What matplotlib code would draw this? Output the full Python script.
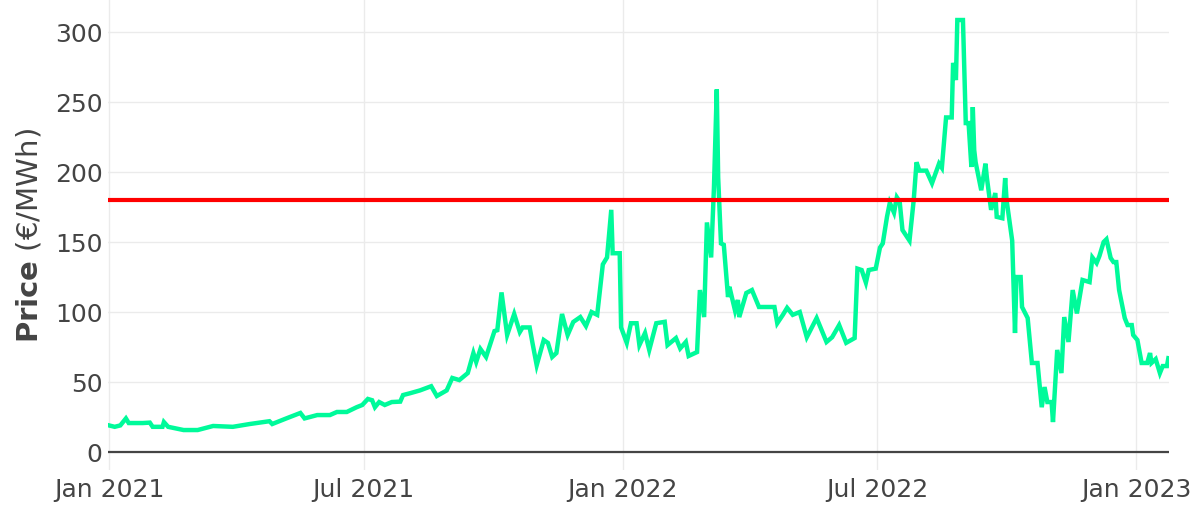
import numpy as np
import pandas as pd
import matplotlib
matplotlib.use("Agg")
import matplotlib.pyplot as plt

# days since 2021-01-01 and price (EUR/MWh)
DAYS = [0, 4, 8, 12, 14, 24, 29, 31, 38, 39, 42, 53, 63, 74, 88, 100, 114, 116,
        126, 136, 139, 148, 157, 162, 169, 176, 180, 184, 187, 189, 192, 196, 201,
        207, 209, 214, 221, 229, 233, 240, 244, 249, 255, 259, 261, 264, 268, 274,
        276, 279, 283, 288, 292, 294, 299, 301, 304, 307, 309, 312, 315, 318, 322,
        326, 330, 335, 339, 343, 347, 351, 354, 357, 358, 363, 364, 368, 371, 375,
        377, 381, 384, 389, 395, 397, 403, 406, 410, 412, 418, 420, 423, 425, 428,
        430, 432, 433, 435, 437, 440, 441, 445, 447, 448, 453, 457, 462, 467, 473,
        475, 479, 482, 486, 491, 496, 503, 510, 514, 519, 524, 530, 532, 535, 538,
        540, 545, 548, 550, 553, 555, 558, 560, 562, 564, 569, 572, 574, 576, 581,
        585, 590, 592, 595, 599, 600, 602, 603, 607, 609, 611, 613, 614, 615, 616,
        620, 623, 624, 627, 630, 631, 635, 637, 638, 642, 644, 645, 648, 649, 653,
        656, 660, 663, 665, 667, 670, 671, 674, 677, 679, 682, 685, 688, 692, 697,
        699, 702, 704, 707, 709, 712, 714, 716, 718, 722, 724, 727, 728, 731, 734,
        738, 740, 741, 744, 747, 749, 752, 753]
PRICE = [19, 18, 19, 24, 20.7, 20.7, 21, 18, 18, 21.4, 18, 15.7, 15.7, 18.6, 18,
         20, 22, 20, 24, 27.9, 24, 26.4, 26.4, 28.6, 28.6, 32, 33.6, 37.9, 37, 32,
         35.7, 33.6, 35.7, 36, 40.7, 42, 44, 47, 40, 44, 52.9, 51.4, 56.4, 70.7,
         64.3, 73.6, 67.9, 86.4, 87, 114, 83.6, 98.6, 85.7, 89, 89, 77.9, 62, 72.9,
         80, 77.9, 67.9, 70.7, 98.6, 83.6, 92.9, 96.4, 90, 100, 98, 134, 139, 173,
         142, 142, 89, 78, 92, 92, 76.4, 85, 72.9, 92, 93, 76.4, 81.4, 74, 78.6,
         68.6, 71.4, 115.7, 96.4, 164, 139, 189, 259, 196, 149, 148, 110.7, 118,
         101, 108.6, 96.4, 113.6, 115.7, 103.6, 103.6, 103.6, 92, 98, 103, 98, 100,
         82, 95.7, 78.6, 82, 90.7, 78, 81.4, 131, 130, 121, 130, 131, 146, 149, 168,
         178, 171, 182, 179, 158.6, 151, 180, 207, 201, 201, 192, 206, 203, 239, 239,
         278, 265.7, 308.6, 308.6, 235, 235, 203.6, 246.4, 215.7, 207, 187, 206, 196,
         173, 185, 168, 167, 195.7, 180, 151, 85, 125, 125, 103.6, 95.7, 63.6, 63.6,
         32, 46.4, 35.7, 35.7, 21.4, 72.9, 56.4, 96.4, 78.6, 115.7, 99, 122.9, 121.4,
         139, 135, 140, 150, 152, 138.6, 135.7, 135.7, 115.7, 95.7, 90.7, 90.7, 83.6,
         80, 63.6, 63.6, 70.7, 63.6, 66.4, 56.4, 61.4, 61.4, 67]
THRESHOLD = 180
START = "2021-01-01"
X_TICKS = ["2021-01-01", "2021-07-01", "2022-01-01", "2022-07-01", "2023-01-01"]
X_TICK_LABELS = ["Jan 2021", "Jul 2021", "Jan 2022", "Jul 2022", "Jan 2023"]
Y_TICKS = [0, 50, 100, 150, 200, 250, 300]

LINE_COLOR = "#00FA9A"
TEXT_COLOR = "#444444"
GRID_COLOR = "#EBEBEB"

plt.rcParams["font.family"] = ["DejaVu Sans"]

start = pd.Timestamp(START)
dates = start + pd.to_timedelta(DAYS, unit="D")

fig = plt.figure(figsize=(11.94, 5.16), dpi=100)
ax = fig.add_axes([0.0905, 0.089, 0.8886, 0.911])

ax.plot(dates, PRICE, color=LINE_COLOR, lw=3.2, solid_joinstyle="miter", zorder=3)
ax.axhline(THRESHOLD, color="#FF0000", lw=3.0, zorder=4)
ax.axhline(0, color=TEXT_COLOR, lw=1.6, zorder=2)

ax.set_xlim(start - pd.Timedelta(days=0.7), start + pd.Timedelta(days=753.5))
ax.set_ylim(-12.9, 322.9)

ax.set_xticks(pd.to_datetime(X_TICKS))
ax.set_xticklabels(X_TICK_LABELS)
ax.set_yticks(Y_TICKS)
ax.tick_params(length=0, labelsize=18, colors=TEXT_COLOR)
ax.tick_params(axis="y", pad=4)
ax.tick_params(axis="x", pad=6)
ax.grid(True, color=GRID_COLOR, lw=1.0, zorder=0)
for s in ax.spines.values():
    s.set_visible(False)

ax.set_ylabel(r"$\bf{Price}$ (€/MWh)", fontsize=21, color=TEXT_COLOR, labelpad=8)

fig.savefig("out.png", dpi=100)
